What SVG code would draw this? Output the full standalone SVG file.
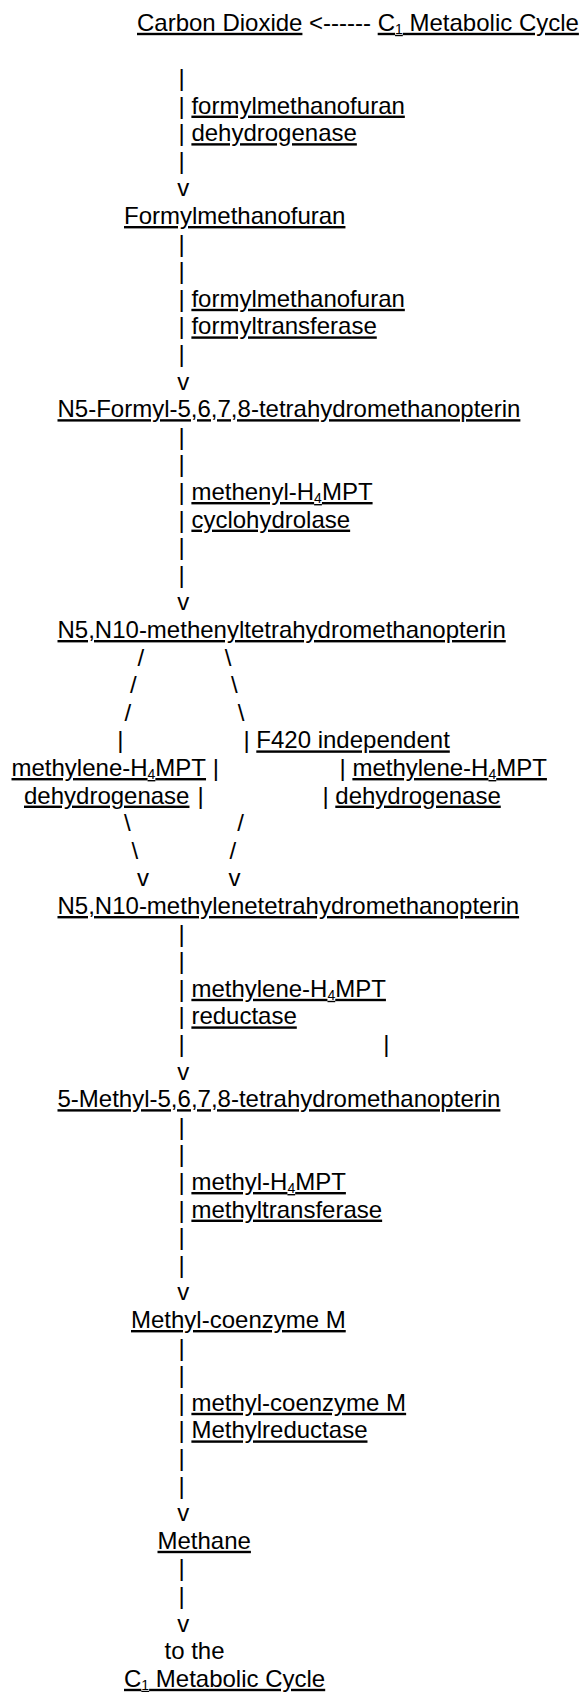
<svg xmlns="http://www.w3.org/2000/svg" width="582" height="1692" viewBox="0 0 582 1692">
  <style>
    text { font-family: "Liberation Sans", Arial, Helvetica, sans-serif; font-size: 24px; fill: #000; }
    .u { text-decoration: underline; }
    .sub { font-size: 14px; }
  </style>
  <rect x="0" y="0" width="582" height="1692" fill="#fff"/>

  <!-- compounds -->
  <g id="node-carbon-dioxide">
    <text class="u" x="137" y="30.8">Carbon Dioxide</text>
  </g>
  <g id="node-c1-cycle-top">
    <text class="u" x="377.7" y="30.8">C<tspan class="sub" dy="3">1</tspan><tspan dy="-3"> Metabolic Cycle</tspan></text>
  </g>
  <g id="node-formylmethanofuran">
    <text class="u" x="124" y="224">Formylmethanofuran</text>
  </g>
  <g id="node-n5-formyl-h4mpt">
    <text class="u" x="57.5" y="417.2">N5-Formyl-5,6,7,8-tetrahydromethanopterin</text>
  </g>
  <g id="node-methenyl-h4mpt">
    <text class="u" x="57.5" y="638">N5,N10-methenyltetrahydromethanopterin</text>
  </g>
  <g id="node-methylene-h4mpt">
    <text class="u" x="57.5" y="914">N5,N10-methylenetetrahydromethanopterin</text>
  </g>
  <g id="node-methyl-h4mpt">
    <text class="u" x="57.5" y="1107.2">5-Methyl-5,6,7,8-tetrahydromethanopterin</text>
  </g>
  <g id="node-methyl-coenzyme-m">
    <text class="u" x="131" y="1328">Methyl-coenzyme M</text>
  </g>
  <g id="node-methane">
    <text class="u" x="157.5" y="1548.8">Methane</text>
  </g>
  <g id="node-c1-cycle-bottom">
    <text x="164.5" y="1659.2">to the</text>
    <text class="u" x="124" y="1686.8">C<tspan class="sub" dy="3">1</tspan><tspan dy="-3"> Metabolic Cycle</tspan></text>
  </g>

  <!-- ascii connectors -->
  <g id="connectors">
    <text x="309.1" y="30.8">&lt;------</text>

    <text x="178.5" y="86">|</text>
    <text x="178.5" y="113.6">|</text>
    <text x="178.5" y="141.2">|</text>
    <text x="178.5" y="168.8">|</text>
    <text x="177.3" y="196.4">v</text>

    <text x="178.5" y="251.6">|</text>
    <text x="178.5" y="279.2">|</text>
    <text x="178.5" y="306.8">|</text>
    <text x="178.5" y="334.4">|</text>
    <text x="178.5" y="362">|</text>
    <text x="177.3" y="389.6">v</text>

    <text x="178.5" y="444.8">|</text>
    <text x="178.5" y="472.4">|</text>
    <text x="178.5" y="500">|</text>
    <text x="178.5" y="527.6">|</text>
    <text x="178.5" y="555.2">|</text>
    <text x="178.5" y="582.8">|</text>
    <text x="177.3" y="610.4">v</text>

    <!-- split into the two dehydrogenase routes -->
    <text x="137.4" y="665.6">/</text>
    <text x="224.7" y="665.6">\</text>
    <text x="129.9" y="693.2">/</text>
    <text x="231" y="693.2">\</text>
    <text x="124.4" y="720.8">/</text>
    <text x="237.7" y="720.8">\</text>
    <text x="117.3" y="748.4">|</text>
    <text x="243.4" y="748.4">|</text>
    <text x="212.7" y="776">|</text>
    <text x="339.5" y="776">|</text>
    <text x="197.5" y="803.6">|</text>
    <text x="322.4" y="803.6">|</text>
    <text x="124" y="831.2">\</text>
    <text x="237.3" y="831.2">/</text>
    <text x="131.4" y="858.8">\</text>
    <text x="229.5" y="858.8">/</text>
    <text x="137" y="886.4">v</text>
    <text x="228.5" y="886.4">v</text>

    <text x="178.5" y="941.6">|</text>
    <text x="178.5" y="969.2">|</text>
    <text x="178.5" y="996.8">|</text>
    <text x="178.5" y="1024.4">|</text>
    <text x="178.5" y="1052">|</text>
    <text x="383.2" y="1052">|</text>
    <text x="177.3" y="1079.6">v</text>

    <text x="178.5" y="1134.8">|</text>
    <text x="178.5" y="1162.4">|</text>
    <text x="178.5" y="1190">|</text>
    <text x="178.5" y="1217.6">|</text>
    <text x="178.5" y="1245.2">|</text>
    <text x="178.5" y="1272.8">|</text>
    <text x="177.3" y="1300.4">v</text>

    <text x="178.5" y="1355.6">|</text>
    <text x="178.5" y="1383.2">|</text>
    <text x="178.5" y="1410.8">|</text>
    <text x="178.5" y="1438.4">|</text>
    <text x="178.5" y="1466">|</text>
    <text x="178.5" y="1493.6">|</text>
    <text x="177.3" y="1521.2">v</text>

    <text x="178.5" y="1576.4">|</text>
    <text x="178.5" y="1604">|</text>
    <text x="177.3" y="1631.6">v</text>
  </g>

  <!-- enzyme labels beside the arrows -->
  <g id="enzymes">
    <text class="u" x="191.4" y="113.6">formylmethanofuran</text>
    <text class="u" x="191.4" y="141.2">dehydrogenase</text>

    <text class="u" x="191.4" y="306.8">formylmethanofuran</text>
    <text class="u" x="191.4" y="334.4">formyltransferase</text>

    <text class="u" x="191.4" y="500">methenyl-H<tspan class="sub" dy="3">4</tspan><tspan dy="-3">MPT</tspan></text>
    <text class="u" x="191.4" y="527.6">cyclohydrolase</text>

    <text class="u" x="11.5" y="776">methylene-H<tspan class="sub" dy="3">4</tspan><tspan dy="-3">MPT</tspan></text>
    <text class="u" x="24" y="803.6">dehydrogenase</text>

    <text class="u" x="256.3" y="748.4">F420 independent</text>
    <text class="u" x="352.4" y="776">methylene-H<tspan class="sub" dy="3">4</tspan><tspan dy="-3">MPT</tspan></text>
    <text class="u" x="335.3" y="803.6">dehydrogenase</text>

    <text class="u" x="191.4" y="996.8">methylene-H<tspan class="sub" dy="3">4</tspan><tspan dy="-3">MPT</tspan></text>
    <text class="u" x="191.4" y="1024.4">reductase</text>

    <text class="u" x="191.4" y="1190">methyl-H<tspan class="sub" dy="3">4</tspan><tspan dy="-3">MPT</tspan></text>
    <text class="u" x="191.4" y="1217.6">methyltransferase</text>

    <text class="u" x="191.4" y="1410.8">methyl-coenzyme M</text>
    <text class="u" x="191.4" y="1438.4">Methylreductase</text>
  </g>
</svg>
